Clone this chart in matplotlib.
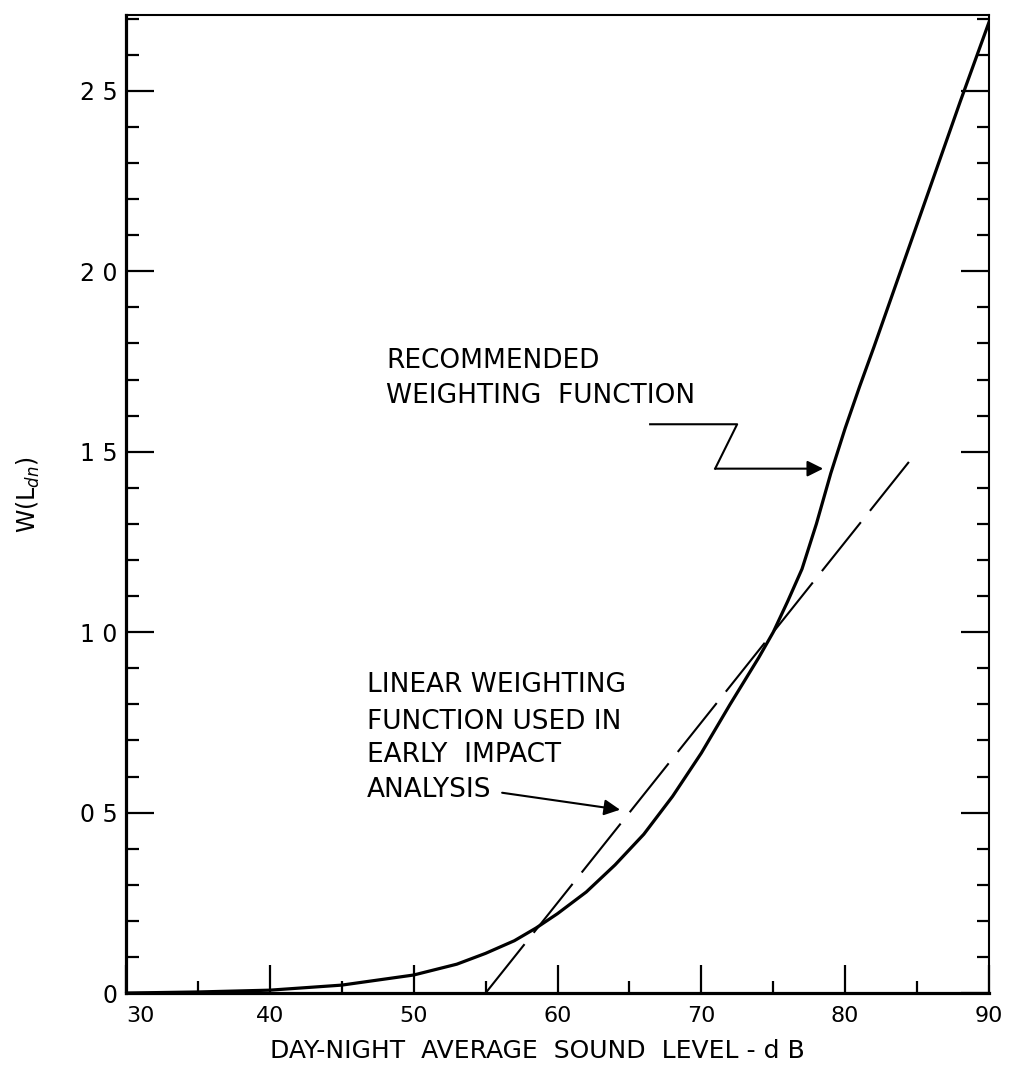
import matplotlib.pyplot as plt
from matplotlib.ticker import MultipleLocator

# recommended weighting function
level = [30, 35, 40, 45, 50, 53, 55, 57, 58.5, 60, 62, 64, 66, 68, 70, 72, 73,
         74, 75, 76, 77, 78, 79, 80, 81, 82, 85, 88, 90]
weight = [0.0, 0.003, 0.008, 0.022, 0.05, 0.08, 0.11, 0.145, 0.18, 0.22, 0.28,
          0.355, 0.44, 0.545, 0.665, 0.80, 0.865, 0.93, 1.00, 1.085, 1.175,
          1.30, 1.44, 1.565, 1.68, 1.79, 2.13, 2.47, 2.69]

# linear weighting function used in early impact analysis
lin_level = [55, 85]
lin_weight = [0.0, 1.5]

xticks = [30, 40, 50, 60, 70, 80, 90]
yticks = [0, 0.5, 1.0, 1.5, 2.0, 2.5]
ytick_labels = ['0', '0 5', '1 0', '1 5', '2 0', '2 5']

plt.rcParams['font.family'] = ['DejaVu Sans']

fig = plt.figure(figsize=(10.13, 10.78), dpi=100)
ax = fig.add_axes([0.1244, 0.0788, 0.8519, 0.9073])

ax.plot(level, weight, color='black', lw=2.3, solid_joinstyle='round')
ax.plot(lin_level, lin_weight, color='black', lw=1.5, dashes=(30, 7))

ax.set_xlim(30, 90)
ax.set_ylim(0, 2.71)

ax.set_xticks(xticks)
ax.set_xticklabels([str(t) for t in xticks])
ax.set_yticks(yticks)
ax.set_yticklabels(ytick_labels)
ax.xaxis.set_minor_locator(MultipleLocator(5))
ax.yaxis.set_minor_locator(MultipleLocator(0.1))

ax.tick_params(which='both', direction='in', top=False, right=True, color='black')
ax.tick_params(which='major', length=20, width=1.6)
ax.tick_params(which='minor', length=9, width=1.6)
ax.tick_params(axis='y', labelsize=17, pad=6)
ax.tick_params(axis='x', labelsize=16, pad=9)
ax.get_xticklabels()[0].set_ha('left')

for side in ['left', 'bottom']:
    ax.spines[side].set_linewidth(2.3)
for side in ['top', 'right']:
    ax.spines[side].set_linewidth(1.5)

# annotations
rec_lines = ['RECOMMENDED', 'WEIGHTING  FUNCTION']
rec_y = [1.75, 1.653]
for txt, yy in zip(rec_lines, rec_y):
    ax.text(48.1, yy, txt, fontsize=19, ha='left', va='center')
ax.plot([66.44, 72.49, 70.96], [1.576, 1.576, 1.453], color='black', lw=1.5)
ax.annotate('', xy=(78.47, 1.453), xytext=(70.96, 1.453),
            arrowprops=dict(arrowstyle='-|>', color='black', lw=1.5,
                            mutation_scale=24, shrinkA=0, shrinkB=0))

lin_lines = ['LINEAR WEIGHTING', 'FUNCTION USED IN', 'EARLY  IMPACT', 'ANALYSIS']
lin_y = [0.854, 0.75, 0.659, 0.562]
for txt, yy in zip(lin_lines, lin_y):
    ax.text(46.76, yy, txt, fontsize=19, ha='left', va='center')
ax.annotate('', xy=(64.35, 0.508), xytext=(56.15, 0.555),
            arrowprops=dict(arrowstyle='-|>', color='black', lw=1.5,
                            mutation_scale=24, shrinkA=0, shrinkB=0))

fig.text(537 / 1013, 1 - 1051 / 1078, 'DAY-NIGHT  AVERAGE  SOUND  LEVEL - d B',
         fontsize=18, ha='center', va='center')
fig.text(28 / 1013, 1 - 495 / 1078, r'W(L$_{dn}$)', fontsize=17,
         rotation=90, ha='center', va='center')

plt.savefig('out.png', dpi=100)
